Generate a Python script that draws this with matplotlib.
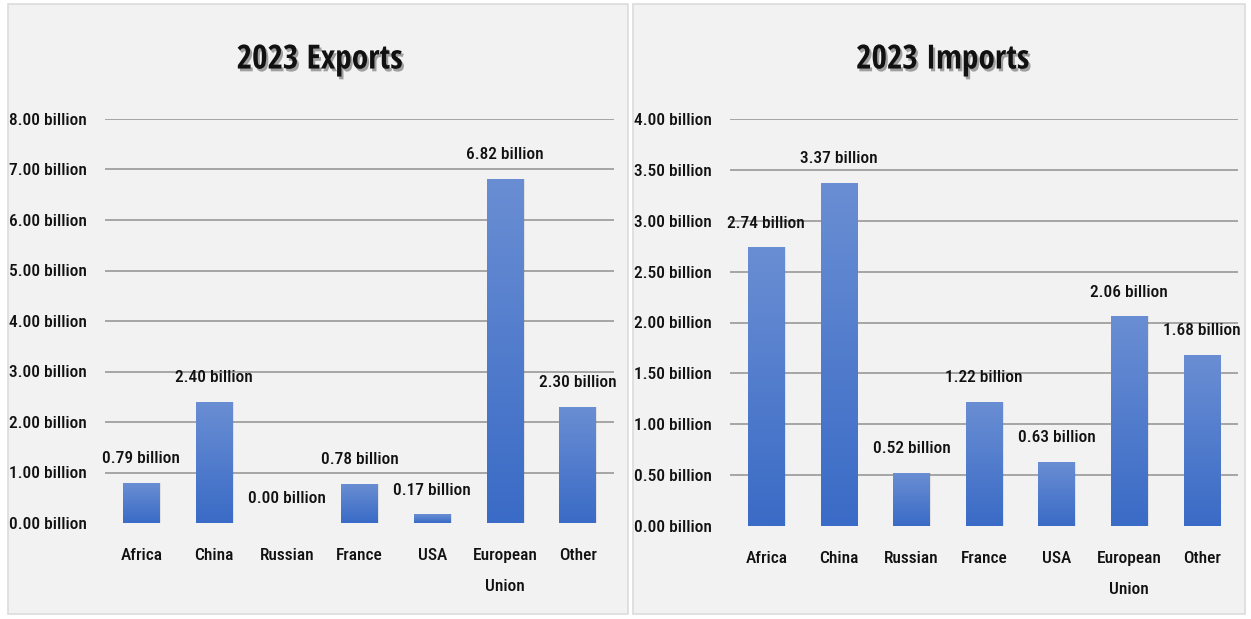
import matplotlib
matplotlib.use('Agg')
from matplotlib import pyplot as plt
from matplotlib.patches import Rectangle
import matplotlib.patheffects as pe
import numpy as np

plt.rcParams['font.family'] = ['Roboto Condensed', 'Carlito', 'DejaVu Sans']
title_font = ['Open Sans Condensed', 'Carlito', 'DejaVu Sans']

categories = ['Africa', 'China', 'Russian', 'France', 'USA', 'European\nUnion', 'Other']
exports = [0.79, 2.40, 0.00, 0.78, 0.17, 6.82, 2.30]
imports = [2.74, 3.37, 0.52, 1.22, 0.63, 2.06, 1.68]
export_ticks = [0, 1, 2, 3, 4, 5, 6, 7, 8]
import_ticks = [0, 0.5, 1, 1.5, 2, 2.5, 3, 3.5, 4]

fig = plt.figure(figsize=(12.51, 6.19), dpi=100)
fig.patch.set_facecolor('white')

# panel backgrounds
for x0, w in [(8, 620), (633, 612)]:
    fig.patches.append(Rectangle((x0 / 1251, 5 / 619), w / 1251, 610 / 619,
                                 transform=fig.transFigure, facecolor='#f2f2f2',
                                 edgecolor='#dcdcdc', lw=1.2, zorder=-5))

grad = np.linspace(0, 1, 256).reshape(-1, 1)
cmap = matplotlib.colors.LinearSegmentedColormap.from_list('b', ['#3a6bc6', '#6a8ed3'])


def panel(rect, values, ticks, title, title_x):
    ax = fig.add_axes(rect, zorder=2)
    ax.set_facecolor('none')
    x = np.arange(len(values))
    bars = ax.bar(x, values, width=0.5, color='none', zorder=3)
    for b in bars:
        h = b.get_height()
        xc = b.get_x() + b.get_width() / 2
        ax.annotate(f'{h:.2f} billion', (xc, h), xytext=(0, 12),
                    textcoords='offset points', ha='center', va='bottom',
                    fontsize=12.5, fontweight='medium', color='#111111', zorder=5)
        if h <= 0:
            continue
        # soft shadow
        ax.add_patch(Rectangle((b.get_x() + 0.02, 0), b.get_width(), h,
                               facecolor='#000000', alpha=0.07, lw=0, zorder=2))
        im = ax.imshow(grad, cmap=cmap, aspect='auto', origin='lower',
                       extent=(b.get_x(), b.get_x() + b.get_width(), 0, h), zorder=3)
        im.set_clip_path(b)
    ax.set_xlim(-0.5, len(values) - 0.5)
    ax.set_ylim(ticks[0], ticks[-1])
    ax.set_yticks(ticks)
    ax.set_yticklabels([f'{t:.2f} billion' for t in ticks], fontweight='medium')
    ax.set_xticks(x)
    ax.set_xticklabels(categories, fontweight='medium')
    for lab in ax.get_xticklabels():
        lab.set_linespacing(2.3)
    ax.tick_params(axis='both', length=0, labelsize=12.5, colors='#111111')
    ax.tick_params(axis='y', pad=13)
    ax.tick_params(axis='x', pad=18)
    for s in ax.spines.values():
        s.set_visible(False)
    ax.yaxis.grid(True, color='#a0a0a0', lw=1.3, zorder=1)
    ax.set_axisbelow(True)
    ax.yaxis.get_gridlines()[0].set_visible(False)
    fig.text(title_x, 0.903, title, ha='center', va='center', fontsize=24,
             fontweight='bold', color='#111111', zorder=5, family=title_font,
             path_effects=[pe.withSimplePatchShadow(offset=(1.5, -2), alpha=0.35)])
    return ax


panel([105 / 1251, 1 - 523 / 619, 509 / 1251, 404 / 619], exports, export_ticks,
      '2023 Exports', 320 / 1251)
panel([730 / 1251, 1 - 526 / 619, 508 / 1251, 407 / 619], imports, import_ticks,
      '2023 Imports', 943 / 1251)

fig.savefig('out.png', dpi=100)
